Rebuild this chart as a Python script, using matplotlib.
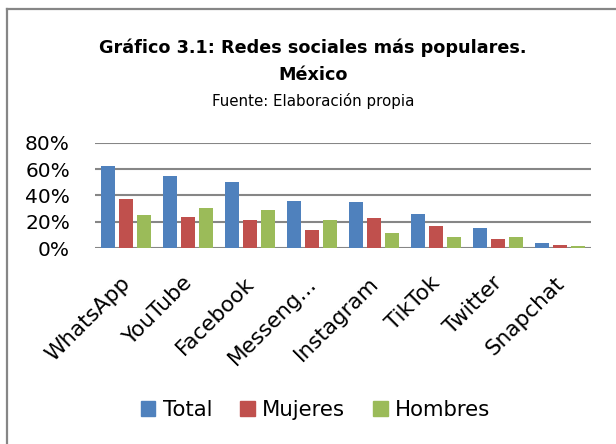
import matplotlib
matplotlib.use("Agg")
import matplotlib.pyplot as plt
import numpy as np
from matplotlib.lines import Line2D
from matplotlib.ticker import FuncFormatter
import matplotlib.transforms as mtransforms

categories = ["WhatsApp", "YouTube", "Facebook", "Messeng...", "Instagram", "TikTok", "Twitter", "Snapchat"]
total = [62.7, 54.6, 50.3, 35.6, 34.8, 25.7, 15.5, 4.1]
mujeres = [37.3, 23.6, 21.1, 14.0, 22.6, 17.0, 7.1, 2.5]
hombres = [25.4, 30.7, 28.7, 21.6, 11.4, 8.4, 8.1, 1.3]
series_names = ["Total", "Mujeres", "Hombres"]
colors = ["#4F81BD", "#C0504D", "#9BBB59"]
yticks = [0, 20, 40, 60, 80]

plt.rcParams['font.family'] = ['DejaVu Sans']

W, H = 616, 444
fig = plt.figure(figsize=(W/100, H/100), dpi=100)

# axes in pixel coords: x 95..591, y 143..248
ax = fig.add_axes([95/W, 1 - 248/H, (591-95)/W, (248-143)/H])

x = np.arange(len(categories))
bw = 0.225
step = 0.293
for i, (vals, name, c) in enumerate(zip([total, mujeres, hombres], series_names, colors)):
    ax.bar(x + (i-1)*step, vals, width=bw, color=c, label=name, zorder=3)

ax.set_xlim(-0.5, len(categories)-0.5)
ax.set_ylim(0, 80)
ax.set_yticks(yticks)
ax.yaxis.set_major_formatter(FuncFormatter(lambda v, p: f"{int(v)}%"))
ax.grid(axis='y', color='#868686', linewidth=1.5, zorder=0)
ax.set_axisbelow(True)
for s in ax.spines.values():
    s.set_visible(False)
ax.tick_params(axis='y', length=0, labelsize=14.5, pad=18)
ax.tick_params(axis='x', length=0, labelsize=15.5, pad=18)
ax.set_xticks(x)
ax.set_xticklabels(categories, rotation=45, ha='right', va='top', rotation_mode='anchor')
offset = mtransforms.ScaledTranslation(-6/100, 0, fig.dpi_scale_trans)
for lbl in ax.get_xticklabels():
    lbl.set_transform(lbl.get_transform() + offset)

fig.text(313/W, 1 - 53/H, "Gráfico 3.1: Redes sociales más populares.", ha='center', va='baseline',
         fontsize=12.7, fontweight='bold')
fig.text(313/W, 1 - 80/H, "México", ha='center', va='baseline', fontsize=12.7, fontweight='bold')
fig.text(313/W, 1 - 106/H, "Fuente: Elaboración propia", ha='center', va='baseline', fontsize=10.8)

handles = [plt.Rectangle((0, 0), 1, 1, color=c) for c in colors]
fig.legend(handles, series_names, loc='center', bbox_to_anchor=(315.5/W, 1 - 410/H), ncol=3,
           frameon=False, fontsize=15.3, handlelength=0.7, handleheight=0.7,
           handletextpad=0.35, columnspacing=1.3)

fig.add_artist(Line2D([6.5/W, 6.5/W], [0, 1 - 9/H], color='#868686', linewidth=1.6, transform=fig.transFigure))
fig.add_artist(Line2D([6.5/W, 1], [1 - 9/H, 1 - 9/H], color='#868686', linewidth=1.6, transform=fig.transFigure))

fig.savefig("out.png", dpi=100)
